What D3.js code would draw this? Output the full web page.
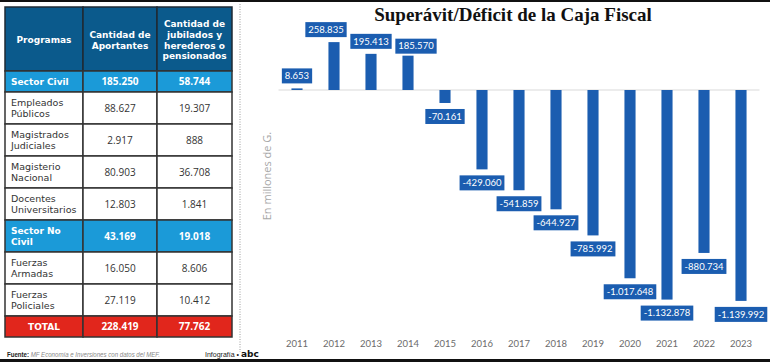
<!DOCTYPE html>
<html>
<head>
<meta charset="utf-8">
<script src="https://cdn.jsdelivr.net/npm/d3@7"></script>
<style>
  body { margin: 0; background: #fff; }
  svg { display: block; }
</style>
</head>
<body>
<div id="chart"></div>
<script>
// table data
const headers = ['Programas', 'Cantidad de\nAportantes', 'Cantidad de\njubilados y\nherederos o\npensionados']
const programas = [
  'Sector Civil',
  'Empleados\nPúblicos',
  'Magistrados\nJudiciales',
  'Magisterio\nNacional',
  'Docentes\nUniversitarios',
  'Sector No\nCivil',
  'Fuerzas\nArmadas',
  'Fuerzas\nPoliciales',
  'TOTAL'
]
const rowTypes = ['sector', 'item', 'item', 'item', 'item', 'sector', 'item', 'item', 'total']
const aportantes = [185250, 88627, 2917, 80903, 12803, 43169, 16050, 27119, 228419]
const jubilados = [58744, 19307, 888, 36708, 1841, 19018, 8606, 10412, 77762]

// chart data (millones de G.)
const years = ['2011', '2012', '2013', '2014', '2015', '2016', '2017', '2018', '2019', '2020', '2021', '2022', '2023']
const saldo = [8653, 258835, 195413, 185570, -70161, -429060, -541859, -644927, -785992, -1017648, -1132878, -880734, -1139992]

// hand tuned label nudges, like the original
const labelNudge = { '2012': [-8, 0], '2014': [8, 3] }

let width = 770
let height = 362

let es = d3.formatLocale({ decimal: ',', thousands: '.', grouping: [3], currency: ['', ''], minus: '-' })
let fmt = es.format(',')

let svg = d3
  .select('#chart')
  .append('svg')
  .attr('width', width)
  .attr('height', height)

// frame lines
svg.append('rect').attr('x', 0).attr('y', 0).attr('width', width).attr('height', 2).attr('fill', '#111')
svg.append('rect').attr('x', 0).attr('y', 359).attr('width', width).attr('height', 3).attr('fill', '#111')

svg
  .append('line')
  .attr('x1', 240).attr('x2', 240)
  .attr('y1', 4).attr('y2', 352)
  .attr('stroke', '#9a9a9a')
  .attr('stroke-dasharray', '1,1.5')

// ---------- table ----------
let colX = [5, 83, 157, 232]
let fills = { header: '#0b5a8c', sector: '#1b9ad8', total: '#e1261c', item: '#fff' }
let tableFont = "'DejaVu Sans', sans-serif"
let numFont = "'Open Sans', sans-serif"

function multiline(g, str, x, cy, lh, anchor) {
  let lines = str.split('\n')
  let t = g
    .append('text')
    .attr('text-anchor', anchor)
    .attr('font-family', tableFont)
  lines.forEach((l, i) => {
    t.append('tspan')
      .attr('x', x)
      .attr('y', cy - ((lines.length - 1) * lh) / 2 + i * lh)
      .attr('dy', '0.35em')
      .text(l)
  })
  return t
}

let table = svg.append('g')

headers.forEach((h, i) => {
  table
    .append('rect')
    .attr('x', colX[i]).attr('y', 7)
    .attr('width', colX[i + 1] - colX[i]).attr('height', 64)
    .attr('fill', fills.header)
    .attr('stroke', '#1f2a33').attr('stroke-width', 1.5)
  multiline(table, h, (colX[i] + colX[i + 1]) / 2, 40, 10.8, 'middle')
    .attr('fill', '#fff')
    .attr('font-weight', 700)
    .attr('font-size', 9)
})

let yCursor = 71
programas.forEach((p, i) => {
  let type = rowTypes[i]
  let rh = p.includes('\n') ? 32 : 21
  let cy = yCursor + rh / 2
  let bold = type !== 'item'
  let color = bold ? '#fff' : '#333'
  for (let c = 0; c < 3; c++) {
    table
      .append('rect')
      .attr('x', colX[c]).attr('y', yCursor)
      .attr('width', colX[c + 1] - colX[c]).attr('height', rh)
      .attr('fill', fills[type])
      .attr('stroke', '#333').attr('stroke-width', 1.5)
  }
  let nameX = type === 'total' ? (colX[0] + colX[1]) / 2 : 11
  multiline(table, p, nameX, cy, 11, type === 'total' ? 'middle' : 'start')
    .attr('fill', color)
    .attr('font-weight', bold ? 700 : 400)
    .attr('font-size', bold ? 9 : 9.5)
  ;[aportantes[i], jubilados[i]].forEach((v, c) => {
    table
      .append('text')
      .attr('x', (colX[c + 1] + colX[c + 2]) / 2)
      .attr('y', cy)
      .attr('dy', '0.35em')
      .attr('text-anchor', 'middle')
      .attr('font-family', numFont)
      .attr('font-size', 10)
      .attr('font-weight', bold ? 700 : 400)
      .attr('fill', color)
      .text(fmt(v))
  })
  yCursor += rh
})

// footer
let foot = svg
  .append('text')
  .attr('x', 7).attr('y', 357)
  .attr('font-family', "'Liberation Sans Narrow', 'Liberation Sans', sans-serif")
  .attr('font-size', 6.5)
  .attr('textLength', 153)
  .attr('lengthAdjust', 'spacingAndGlyphs')
foot.append('tspan').attr('font-weight', 700).attr('fill', '#222').text('Fuente: ')
foot.append('tspan').attr('font-style', 'italic').attr('fill', '#888').text('MF Economía e Inversiones con datos del MEF.')

svg
  .append('text')
  .attr('x', 205).attr('y', 357)
  .attr('font-family', "'Liberation Sans', sans-serif")
  .attr('font-size', 7)
  .attr('fill', '#222')
  .text('Infografía •')
svg
  .append('text')
  .attr('x', 241).attr('y', 357)
  .attr('font-family', "'DejaVu Sans', sans-serif")
  .attr('font-weight', 900)
  .attr('font-size', 9)
  .attr('fill', '#111')
  .text('abc')

// ---------- chart ----------
let xPositionScale = d3
  .scaleBand()
  .domain(years)
  .range([278.5, 759.5])
  .paddingInner(0.7)
  .paddingOuter(0.35)

let yPositionScale = d3.scaleLinear().domain([-1200000, 300000]).range([312, 34.5])

let barColor = '#1b5db0'

svg
  .append('text')
  .attr('x', 513)
  .attr('y', 21)
  .attr('text-anchor', 'middle')
  .attr('font-family', "'Liberation Serif', serif")
  .attr('font-weight', 700)
  .attr('font-size', 19)
  .attr('fill', '#111')
  .text('Superávit/Déficit de la Caja Fiscal')

svg
  .append('text')
  .attr('transform', 'translate(271,176) rotate(-90)')
  .attr('text-anchor', 'middle')
  .attr('font-family', "'Open Sans', sans-serif")
  .attr('font-size', 11)
  .attr('fill', '#a8a8a8')
  .text('En millones de G.')

svg
  .append('line')
  .attr('x1', xPositionScale.range()[0])
  .attr('x2', xPositionScale.range()[1])
  .attr('y1', yPositionScale(0))
  .attr('y2', yPositionScale(0))
  .attr('stroke', '#d9d9d9')
  .attr('stroke-width', 1)

let data = years.map((y, i) => ({ year: y, value: saldo[i] }))

svg
  .selectAll('.bar')
  .data(data)
  .enter()
  .append('rect')
  .attr('class', 'bar')
  .attr('x', d => xPositionScale(d.year))
  .attr('width', xPositionScale.bandwidth())
  .attr('y', d => yPositionScale(Math.max(0, d.value)))
  .attr('height', d => Math.abs(yPositionScale(d.value) - yPositionScale(0)))
  .attr('fill', barColor)

let xAxis = d3.axisBottom(xPositionScale).tickSize(0).tickPadding(0)
let axisG = svg
  .append('g')
  .attr('class', 'axis x-axis')
  .attr('transform', 'translate(0,340)')
  .call(xAxis)
axisG.select('.domain').remove()
axisG
  .selectAll('text')
  .attr('font-family', "'Lato', sans-serif")
  .attr('font-size', 9.5)
  .attr('fill', '#6b6b6b')

// value labels in boxes
let labels = svg
  .selectAll('.val')
  .data(data)
  .enter()
  .append('g')
  .attr('class', 'val')

labels.each(function(d) {
  let g = d3.select(this)
  let nudge = labelNudge[d.year] || [0, 0]
  let cx = xPositionScale(d.year) + xPositionScale.bandwidth() / 2 + nudge[0]
  let t = g
    .append('text')
    .attr('text-anchor', 'middle')
    .attr('font-family', "'Lato', sans-serif")
    .attr('font-size', 9.5)
    .attr('fill', '#fff')
    .attr('x', cx)
    .text(fmt(d.value))
  let w = t.node().getComputedTextLength() + 6
  let boxH = 15
  let top =
    d.value >= 0
      ? yPositionScale(d.value) - 5 - boxH + nudge[1]
      : yPositionScale(d.value) + 6 + nudge[1]
  g.insert('rect', 'text')
    .attr('x', cx - w / 2)
    .attr('y', top)
    .attr('width', w)
    .attr('height', boxH)
    .attr('fill', barColor)
  t.attr('y', top + boxH / 2).attr('dy', '0.35em')
})
</script>
</body>
</html>
